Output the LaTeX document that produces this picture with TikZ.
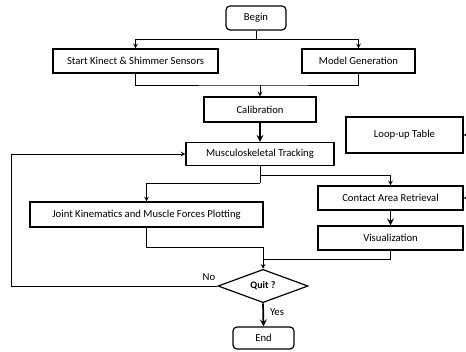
\documentclass[tikz,border=0pt]{standalone}
\usepackage{fontspec}
\setmainfont{Carlito}
\usetikzlibrary{arrows,shapes.geometric,positioning}
\tikzset{>=stealth}
\tikzset{
box/.style={draw,line width=0.9pt,inner sep=0pt,font=\fontsize{8}{10}\selectfont},
term/.style={box,rounded corners=3pt},
link/.style={line width=0.6pt},
thick link/.style={line width=1.3pt}
}
\begin{document}
\begin{tikzpicture}[x=0.75pt,y=-0.75pt]
\useasboundingbox (0,0) rectangle (466,351);
\node[term,minimum width=45pt,minimum height=18pt] (begin) at (256,18) {Begin};
\node[box,minimum width=123.75pt,minimum height=18pt] (start) at (135.5,61) {Start Kinect \& Shimmer Sensors};
\node[box,minimum width=84.75pt,minimum height=18pt] (model) at (358.5,61) {Model Generation};
\node[box,minimum width=84pt,minimum height=18.75pt] (calib) at (260,109.5) {Calibration};
\node[box,minimum width=87.75pt,minimum height=27pt] (lookup) at (404.5,135) {Loop-up Table};
\node[box,minimum width=111pt,minimum height=17.25pt] (track) at (260,154) {Musculoskeletal Tracking};
\node[box,minimum width=108.75pt,minimum height=18pt] (contact) at (390.5,198) {Contact Area Retrieval};
\node[box,minimum width=174.75pt,minimum height=18.75pt] (joint) at (146.5,214.5) {Joint Kinematics and Muscle Forces Plotting};
\node[box,minimum width=108.75pt,minimum height=18pt] (visual) at (390.5,238) {Visualization};
\node[box,diamond,minimum width=67.5pt,minimum height=24pt,font=\fontsize{7.5}{9}\selectfont\bfseries] (quit) at (263,286) {Quit ?};
\node[term,minimum width=45.75pt,minimum height=16.5pt] (end) at (263.5,338) {End};
\node[font=\fontsize{8}{10}\selectfont] (no) at (209,277) {No};
\node[font=\fontsize{8}{10}\selectfont] (yes) at (277,312) {Yes};
% junctions
\coordinate (b1) at (256,39);
\coordinate (m1) at (260,85);
\coordinate (t1) at (260,175);
\coordinate (t2) at (260,183);
\coordinate (q1) at (263,247);
\coordinate (q2) at (263,259);
\coordinate (fb) at (11,154);
\coordinate (r1) at (466,135);
\coordinate (r2) at (466,198);
\draw[link] (begin.south) -- (b1);
\draw[link,->] (b1) -| (start.north);
\draw[link,->] (b1) -| (model.north);
\draw[link] (start.south) |- (m1) -| (model.south);
\draw[link,->] (m1) -- (calib.north);
\draw[thick link,->] (calib.south) -- (track.north);
\draw[link] (track.south) -- (t2);
\draw[link,->] (t1) -| (contact.north);
\draw[link,->] (t2) -| (joint.north);
\draw[thick link,->] (contact.south) -- (visual.north);
\draw[link] (joint.south) |- (q1);
\draw[link] (visual.south) |- (q2);
\draw[link,->] (q1) -- (quit.north);
\draw[link,->] (quit.west) -| (fb) -- (track.west);
\draw[thick link,->] (quit.south) -- (end.north);
\draw[link,->] (r1) -- (lookup.east);
\draw[link,->] (r2) -- (contact.east);
\end{tikzpicture}
\end{document}
